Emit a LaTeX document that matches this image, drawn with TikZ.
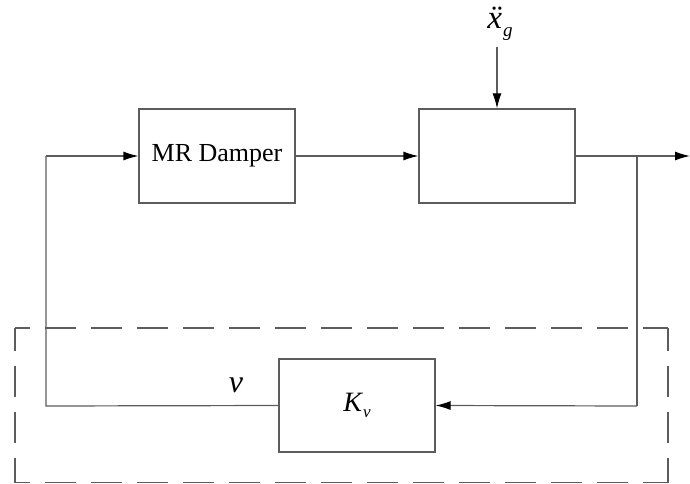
\documentclass[tikz,border=0pt]{standalone}
\usepackage{fontspec}
\setmainfont{Liberation Serif}
\usetikzlibrary{arrows.meta}
\definecolor{ln}{rgb}{0.36,0.36,0.36}
\tikzset{
  blk/.style={draw=ln, line width=1.2pt, minimum width=156pt, minimum height=94pt, inner sep=0pt, font=\fontsize{26}{28}\selectfont},
  sig/.style={draw=ln, line width=1.2pt, -{Latex[length=15pt,width=9pt,black]}},
  wire/.style={draw=ln, line width=1.2pt},
  dsh/.style={draw=ln, line width=1.2pt, dash pattern=on 31pt off 15pt},
}
\begin{document}
\begin{tikzpicture}[x=1pt,y=-1pt]
\useasboundingbox (0,0) rectangle (690,484);
\node[blk] (mr) at (217,156) {MR Damper};
\node[blk] (pl) at (497,156) {};
\node[blk, minimum height=93pt] (kv) at (357,405.5) {\fontsize{28}{30}\selectfont\itshape K\kern1pt\raisebox{-6pt}{\fontsize{17}{18}\selectfont v}};
\node (xg) at (500,24) {\fontsize{33}{34}\selectfont\itshape \"x\kern1pt\raisebox{-8pt}{\fontsize{19}{20}\selectfont g}};
\node (vl) at (236,385) {\fontsize{32}{33}\selectfont\itshape v};
\coordinate (dtop) at (497,47);
\coordinate (br) at (637,156);
\coordinate (out) at (690,156);
\coordinate (brb) at (637,406);
\coordinate (lb) at (46,406);
\coordinate (lt) at (46,156);
% signals
\draw[sig] (mr.east) -- (pl.west);
\draw[sig] (dtop) -- (pl.north);
\draw[sig] (pl.east) -- (out);
\draw[wire] (br) -- (brb);
\draw[sig] (brb) -- (kv.east);
\draw[wire] (kv.west) -- (lb) -- (lt);
\draw[sig] (lt) -- (mr.west);
% dashed box
\coordinate (d1) at (15,328);
\coordinate (d2) at (668,328);
\coordinate (d3) at (668,482.5);
\coordinate (d4) at (15,482.5);
\draw[dsh, dash phase=16pt] (d1) -- (d2);
\draw[dsh, dash phase=16pt] (d4) -- (d3);
\draw[dsh, dash phase=8pt] (d1) -- (d4);
\draw[dsh, dash phase=8pt] (d2) -- (d3);
\end{tikzpicture}
\end{document}
